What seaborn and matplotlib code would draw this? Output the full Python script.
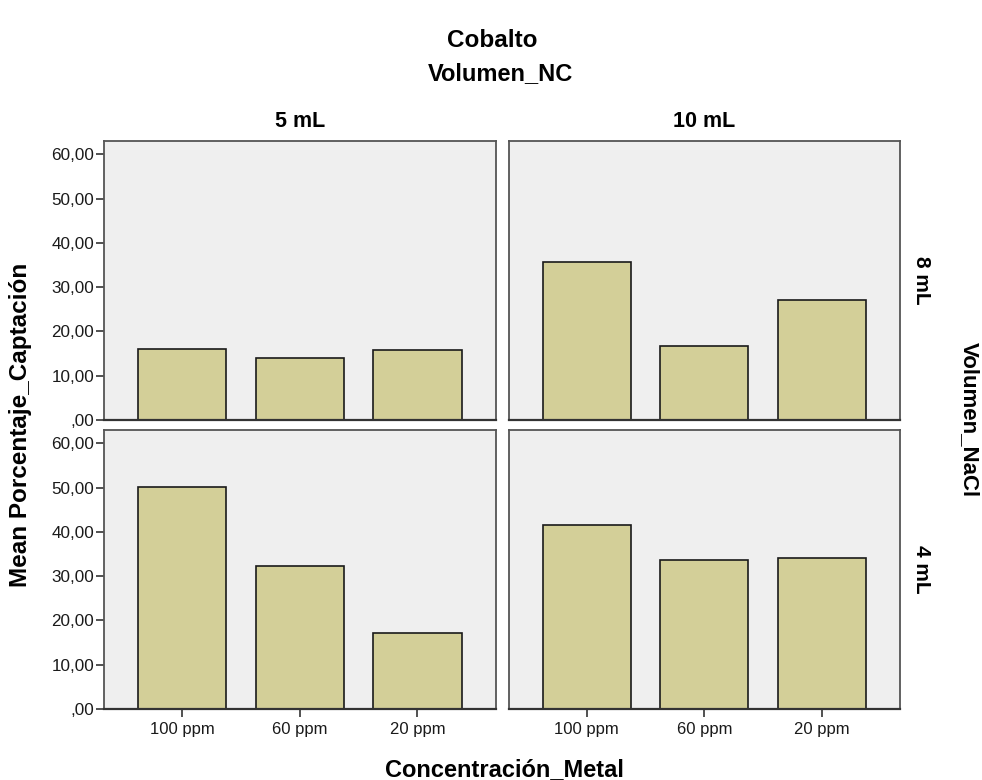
import matplotlib
matplotlib.use("Agg")
import matplotlib.pyplot as plt
import seaborn as sns
import pandas as pd
from matplotlib.ticker import FuncFormatter

# ---- data ----
concentrations = ["100 ppm", "60 ppm", "20 ppm"]
vol_nc = ["5 mL", "10 mL"]
vol_nacl = ["8 mL", "4 mL"]
vals_8_5 = [16.0, 13.9, 15.7]
vals_8_10 = [35.7, 16.6, 27.0]
vals_4_5 = [50.1, 32.4, 17.2]
vals_4_10 = [41.5, 33.6, 34.2]
yticks = [0, 10, 20, 30, 40, 50, 60]

rows = []
for nacl, nc, vals in [("8 mL", "5 mL", vals_8_5), ("8 mL", "10 mL", vals_8_10),
                       ("4 mL", "5 mL", vals_4_5), ("4 mL", "10 mL", vals_4_10)]:
    for c, v in zip(concentrations, vals):
        rows.append({"Volumen_NaCl": nacl, "Volumen_NC": nc,
                     "Concentración_Metal": c, "Porcentaje_Captación": v})
df = pd.DataFrame(rows)

sns.set_theme(style="white")
plt.rcParams["font.family"] = ["Liberation Sans", "DejaVu Sans"]
plt.rcParams["text.color"] = "black"

BAR = "#D3CF98"
BG = "#EFEFEF"

g = sns.catplot(data=df, kind="bar", x="Concentración_Metal", y="Porcentaje_Captación",
                row="Volumen_NaCl", col="Volumen_NC", row_order=vol_nacl, col_order=vol_nc,
                order=concentrations, color=BAR, width=0.75, errorbar=None,
                edgecolor="#1a1a1a", linewidth=1.2, saturation=1,
                margin_titles=True, sharex=True, sharey=True)
fig = g.figure
fig.set_size_inches(9.82, 7.80)
fig.subplots_adjust(left=0.106, right=0.9165, top=0.8192, bottom=0.091,
                    wspace=0.033, hspace=0.036)

fmt = FuncFormatter(lambda v, p: (",00" if v == 0 else f"{v:.2f}".replace(".", ",")))

for i, rname in enumerate(vol_nacl):
    for j, cname in enumerate(vol_nc):
        ax = g.axes[i, j]
        ax.set_facecolor(BG)
        ax.set_ylim(0, 63)
        ax.set_xlim(-0.664, 2.664)
        ax.set_yticks(yticks)
        ax.yaxis.set_major_formatter(fmt)
        for s in ax.spines.values():
            s.set_visible(True)
            s.set_color("#555555")
            s.set_linewidth(1.3)
        ax.spines["bottom"].set_color("#333333")
        ax.spines["bottom"].set_linewidth(1.6)
        ax.set_xlabel("")
        ax.set_ylabel("")
        ax.tick_params(axis="y", direction="out", length=6, width=1.2, color="#333333",
                       labelsize=12.3, labelcolor="#1a1a1a", left=(j == 0), labelleft=(j == 0),
                       pad=1)
        ax.tick_params(axis="x", direction="out", length=(6 if i == 1 else 0), width=1.2,
                       color="#333333", labelsize=12, labelcolor="#1a1a1a",
                       bottom=True, labelbottom=(i == 1))

# clear titles and add our own
for ax in g.axes.flat:
    ax.set_title("")
for t in list(g._margin_titles_texts):
    t.remove()
g._margin_titles_texts = []

for j, cname in enumerate(vol_nc):
    g.axes[0, j].set_title(cname, fontsize=15.5, fontweight="bold", pad=10, color="black")
for i, rname in enumerate(vol_nacl):
    ax = g.axes[i, -1]
    ax.annotate(rname, xy=(1.054, 0.5), xycoords="axes fraction", rotation=270,
                ha="center", va="center", fontsize=15, fontweight="bold", color="black")

fig.text(0.501, 0.948, "Cobalto", ha="center", va="center", fontsize=17.5, fontweight="bold")
fig.text(0.51, 0.906, "Volumen_NC", ha="center", va="center", fontsize=17, fontweight="bold")
fig.text(0.987, 0.462, "Volumen_NaCl", ha="center", va="center", rotation=270,
         fontsize=16, fontweight="bold")
fig.text(0.021, 0.455, "Mean Porcentaje_Captación", ha="center", va="center", rotation=90,
         fontsize=17.5, fontweight="bold")
fig.text(0.514, 0.013, "Concentración_Metal", ha="center", va="center",
         fontsize=17, fontweight="bold")

fig.savefig("out.png", dpi=100, facecolor="white")
